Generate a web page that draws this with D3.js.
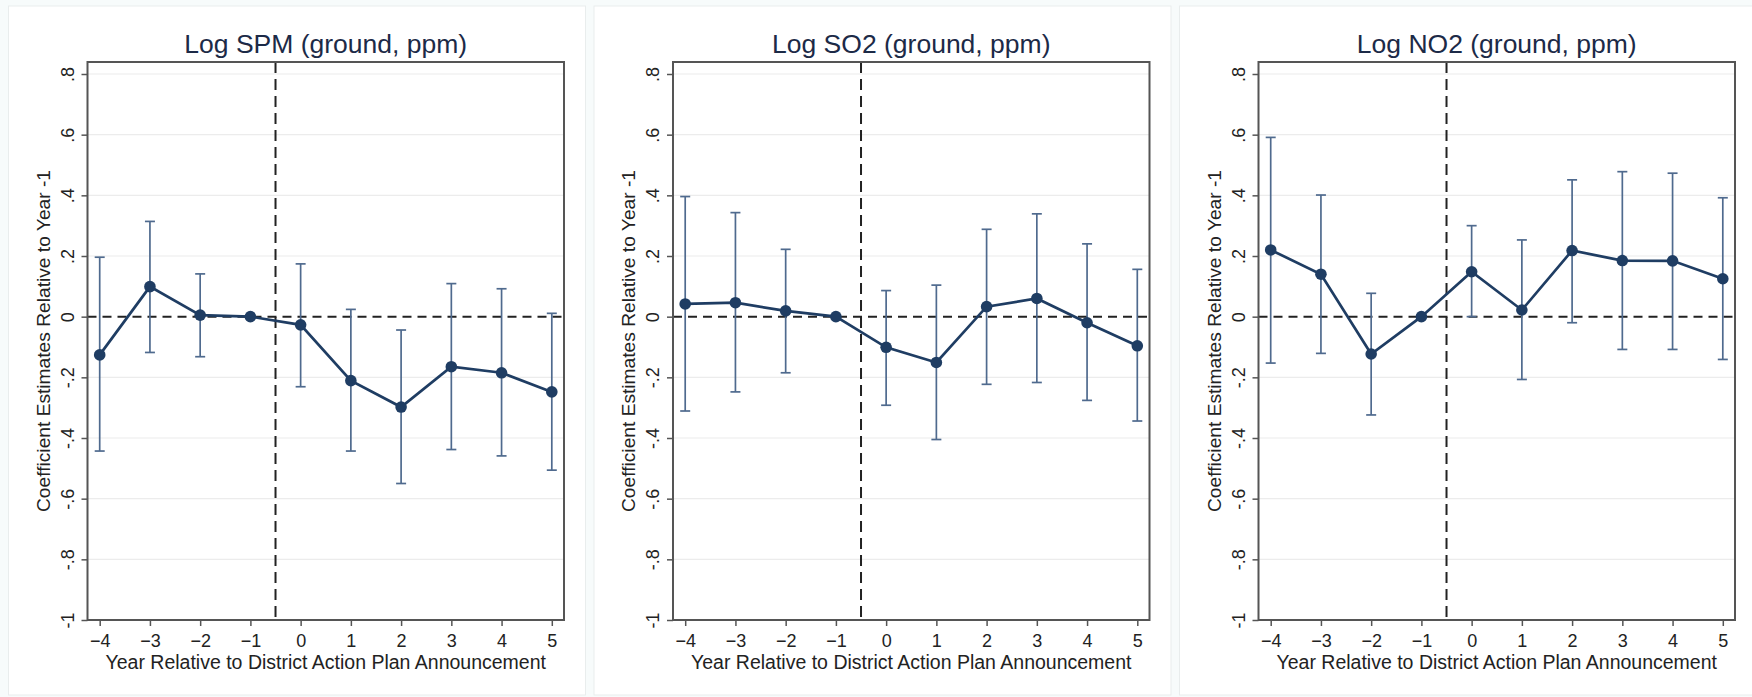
<!DOCTYPE html>
<html>
<head>
<meta charset="utf-8">
<script src="https://cdn.jsdelivr.net/npm/d3@7"></script>
<style>
  body { margin: 0; background: #f7fbfb; }
  svg { display: block; font-family: "Liberation Sans", Arial, sans-serif; }
</style>
</head>
<body>
<script>
var years = [-4, -3, -2, -1, 0, 1, 2, 3, 4, 5];

var titles = ['Log SPM (ground, ppm)', 'Log SO2 (ground, ppm)', 'Log NO2 (ground, ppm)'];

var spmCoef = [-0.126, 0.099, 0.005, 0, -0.027, -0.211, -0.298, -0.165, -0.185, -0.248];
var spmLo = [-0.443, -0.118, -0.132, 0, -0.231, -0.443, -0.550, -0.438, -0.459, -0.506];
var spmHi = [0.196, 0.314, 0.141, 0, 0.174, 0.024, -0.044, 0.109, 0.092, 0.011];

var so2Coef = [0.042, 0.046, 0.019, 0, -0.101, -0.151, 0.033, 0.060, -0.020, -0.096];
var so2Lo = [-0.311, -0.248, -0.185, 0, -0.292, -0.405, -0.223, -0.217, -0.276, -0.344];
var so2Hi = [0.396, 0.343, 0.222, 0, 0.086, 0.104, 0.288, 0.339, 0.240, 0.156];

var no2Coef = [0.220, 0.140, -0.123, 0, 0.148, 0.022, 0.218, 0.185, 0.184, 0.125];
var no2Lo = [-0.153, -0.121, -0.324, 0, 0.000, -0.207, -0.020, -0.108, -0.108, -0.141];
var no2Hi = [0.591, 0.401, 0.077, 0, 0.300, 0.253, 0.451, 0.478, 0.473, 0.392];

var yTicks = [-1, -0.8, -0.6, -0.4, -0.2, 0, 0.2, 0.4, 0.6, 0.8];
var yTickLabels = ['-1', '-.8', '-.6', '-.4', '-.2', '0', '.2', '.4', '.6', '.8'];

var yTitle = 'Coefficient Estimates Relative to Year -1';
var xTitle = 'Year Relative to District Action Plan Announcement';

var panels = [
  { title: titles[0], coef: spmCoef, lo: spmLo, hi: spmHi },
  { title: titles[1], coef: so2Coef, lo: so2Lo, hi: so2Hi },
  { title: titles[2], coef: no2Coef, lo: no2Lo, hi: no2Hi }
];

var W = 1752, H = 697;
var boxW = 577, boxStep = 585.5, boxLeft = 8.5, boxTop = 6, boxBottom = 695;
var frameOff = 79, frameW = 476.5, frameTop = 62, frameBottom = 620;

var navy = '#1f3d63';
var ciColor = '#4f6a8e';

var svg = d3.select('body').append('svg')
  .attr('width', W)
  .attr('height', H);

panels.forEach(function(p, i) {
  var bx = boxLeft + i * boxStep;

  svg.append('rect')
    .attr('x', bx).attr('y', boxTop)
    .attr('width', boxW).attr('height', boxBottom - boxTop)
    .attr('fill', '#fff')
    .attr('stroke', '#e9eded')
    .attr('stroke-width', 1);

  var g = svg.append('g')
    .attr('transform', `translate(${bx + frameOff}, 0)`);

  var x = d3.scaleLinear().domain([-4, 5]).range([12.2, frameW - 12.2]);
  var y = d3.scaleLinear().domain([-1, 0.8]).range([frameBottom, 74]);

  // grid lines
  g.append('g')
    .selectAll('line')
    .data(yTicks.filter(function(t) { return t !== 0; }))
    .enter().append('line')
    .attr('x1', 0).attr('x2', frameW)
    .attr('y1', function(d) { return y(d); })
    .attr('y2', function(d) { return y(d); })
    .attr('stroke', '#ececec')
    .attr('stroke-width', 1.2);

  // reference lines
  g.append('line')
    .attr('x1', 0).attr('x2', frameW)
    .attr('y1', y(0)).attr('y2', y(0))
    .attr('stroke', '#222')
    .attr('stroke-width', 2)
    .attr('stroke-dasharray', '9,6');

  g.append('line')
    .attr('x1', x(-0.5)).attr('x2', x(-0.5))
    .attr('y1', frameTop).attr('y2', frameBottom)
    .attr('stroke', '#222')
    .attr('stroke-width', 2)
    .attr('stroke-dasharray', '11,6');

  var rows = years.map(function(yr, k) {
    return { yr: yr, c: p.coef[k], lo: p.lo[k], hi: p.hi[k] };
  });
  var ci = rows.filter(function(d) { return d.lo !== d.hi; });

  // confidence intervals
  var cig = g.append('g')
    .attr('stroke', ciColor)
    .attr('stroke-width', 1.7);

  cig.selectAll('.ci')
    .data(ci).enter().append('line')
    .attr('x1', function(d) { return x(d.yr); })
    .attr('x2', function(d) { return x(d.yr); })
    .attr('y1', function(d) { return y(d.lo); })
    .attr('y2', function(d) { return y(d.hi); });

  cig.selectAll('.capHi')
    .data(ci).enter().append('line')
    .attr('x1', function(d) { return x(d.yr) - 5; })
    .attr('x2', function(d) { return x(d.yr) + 5; })
    .attr('y1', function(d) { return y(d.hi); })
    .attr('y2', function(d) { return y(d.hi); });

  cig.selectAll('.capLo')
    .data(ci).enter().append('line')
    .attr('x1', function(d) { return x(d.yr) - 5; })
    .attr('x2', function(d) { return x(d.yr) + 5; })
    .attr('y1', function(d) { return y(d.lo); })
    .attr('y2', function(d) { return y(d.lo); });

  var line = d3.line()
    .x(function(d) { return x(d.yr); })
    .y(function(d) { return y(d.c); });

  g.append('path')
    .datum(rows)
    .attr('fill', 'none')
    .attr('stroke', navy)
    .attr('stroke-width', 2.7)
    .attr('d', line);

  g.selectAll('.dot')
    .data(rows).enter().append('circle')
    .attr('cx', function(d) { return x(d.yr); })
    .attr('cy', function(d) { return y(d.c); })
    .attr('r', 5.8)
    .attr('fill', navy);

  // frame
  g.append('rect')
    .attr('x', 0).attr('y', frameTop)
    .attr('width', frameW).attr('height', frameBottom - frameTop)
    .attr('fill', 'none')
    .attr('stroke', '#555')
    .attr('stroke-width', 2);

  // x axis
  var xa = g.append('g')
    .attr('transform', `translate(0, ${frameBottom})`)
    .call(d3.axisBottom(x).tickValues(years).tickFormat(d3.format('d')).tickSize(6).tickPadding(8));
  xa.select('.domain').remove();
  xa.selectAll('line').attr('stroke', '#555').attr('stroke-width', 1.5);
  xa.selectAll('text')
    .attr('fill', '#222')
    .style('font-size', '18px')
    .style('font-family', '"Liberation Sans", Arial, sans-serif');

  // y axis
  var ya = g.append('g')
    .call(d3.axisLeft(y).tickValues(yTicks)
      .tickFormat(function(d, k) { return yTickLabels[k]; })
      .tickSize(6));
  ya.select('.domain').remove();
  ya.selectAll('line').attr('stroke', '#555').attr('stroke-width', 1.5);
  ya.selectAll('text')
    .attr('transform', 'rotate(-90)')
    .attr('x', 0)
    .attr('y', -14)
    .attr('dy', 0)
    .attr('text-anchor', 'middle')
    .attr('fill', '#222')
    .style('font-size', '18px')
    .style('font-family', '"Liberation Sans", Arial, sans-serif');

  // titles
  g.append('text')
    .attr('x', frameW / 2)
    .attr('y', 53)
    .attr('text-anchor', 'middle')
    .attr('fill', '#1c2a47')
    .style('font-size', '26.5px')
    .text(p.title);

  g.append('text')
    .attr('x', frameW / 2)
    .attr('y', 669)
    .attr('text-anchor', 'middle')
    .attr('fill', '#222')
    .style('font-size', '19.5px')
    .text(xTitle);

  g.append('text')
    .attr('transform', `translate(-38, ${(frameTop + frameBottom) / 2}) rotate(-90)`)
    .attr('text-anchor', 'middle')
    .attr('fill', '#222')
    .style('font-size', '19.2px')
    .text(yTitle);
});
</script>
</body>
</html>
